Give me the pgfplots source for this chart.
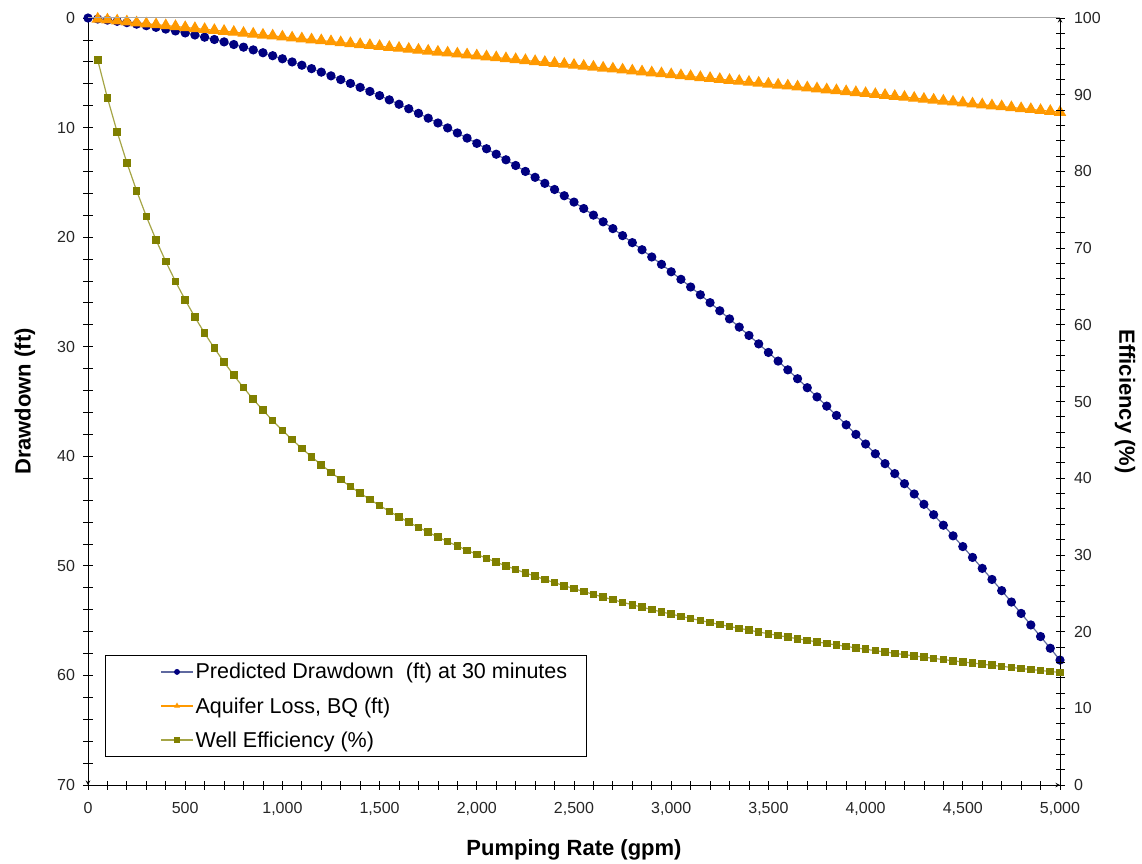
\documentclass[border=0pt]{standalone}
\usepackage{pgfplots}
\pgfplotsset{compat=1.18}
\usepackage{pgfplotstable}
\usepackage{fontspec}
\setmainfont{Liberation Sans}
\definecolor{navy}{RGB}{0,0,128}
\definecolor{navyline}{RGB}{95,105,160}
\definecolor{orng}{RGB}{255,153,0}
\definecolor{olivem}{RGB}{128,128,0}
\definecolor{oliveline}{RGB}{165,165,70}

\pgfplotstableread{
Q s BQ E
0 0 nan nan
50 0.09 0.09 94.51
100 0.19 0.17 89.58
150 0.30 0.26 85.15
200 0.42 0.34 81.13
250 0.56 0.43 77.48
300 0.70 0.52 74.14
350 0.85 0.60 71.07
400 1.01 0.69 68.25
450 1.18 0.77 65.65
500 1.36 0.86 63.24
550 1.55 0.95 60.99
600 1.75 1.03 58.90
650 1.96 1.12 56.95
700 2.18 1.20 55.13
750 2.42 1.29 53.42
800 2.66 1.38 51.81
850 2.91 1.46 50.29
900 3.17 1.55 48.86
950 3.44 1.63 47.51
1000 3.72 1.72 46.24
1050 4.01 1.81 45.03
1100 4.31 1.89 43.88
1150 4.62 1.98 42.79
1200 4.94 2.06 41.75
1250 5.28 2.15 40.76
1300 5.62 2.24 39.81
1350 5.97 2.32 38.91
1400 6.33 2.41 38.05
1450 6.70 2.49 37.23
1500 7.08 2.58 36.44
1550 7.47 2.67 35.68
1600 7.87 2.75 34.96
1650 8.28 2.84 34.26
1700 8.70 2.92 33.59
1750 9.14 3.01 32.95
1800 9.58 3.10 32.33
1850 10.03 3.18 31.73
1900 10.49 3.27 31.16
1950 10.96 3.35 30.60
2000 11.44 3.44 30.07
2050 11.93 3.53 29.55
2100 12.43 3.61 29.05
2150 12.94 3.70 28.57
2200 13.46 3.78 28.10
2250 14.00 3.87 27.65
2300 14.54 3.96 27.22
2350 15.09 4.04 26.79
2400 15.65 4.13 26.38
2450 16.22 4.21 25.98
2500 16.80 4.30 25.60
2550 17.39 4.39 25.22
2600 17.99 4.47 24.86
2650 18.60 4.56 24.50
2700 19.22 4.64 24.16
2750 19.86 4.73 23.82
2800 20.50 4.82 23.50
2850 21.15 4.90 23.18
2900 21.81 4.99 22.87
2950 22.48 5.07 22.57
3000 23.16 5.16 22.28
3050 23.85 5.25 21.99
3100 24.55 5.33 21.72
3150 25.26 5.42 21.45
3200 25.98 5.50 21.18
3250 26.72 5.59 20.92
3300 27.46 5.68 20.67
3350 28.21 5.76 20.43
3400 28.97 5.85 20.19
3450 29.74 5.93 19.95
3500 30.52 6.02 19.72
3550 31.31 6.11 19.50
3600 32.11 6.19 19.28
3650 32.92 6.28 19.07
3700 33.74 6.36 18.86
3750 34.58 6.45 18.66
3800 35.42 6.54 18.45
3850 36.27 6.62 18.26
3900 37.13 6.71 18.07
3950 38.00 6.79 17.88
4000 38.88 6.88 17.70
4050 39.77 6.97 17.52
4100 40.67 7.05 17.34
4150 41.58 7.14 17.17
4200 42.50 7.22 17.00
4250 43.44 7.31 16.83
4300 44.38 7.40 16.67
4350 45.33 7.48 16.51
4400 46.29 7.57 16.35
4450 47.26 7.65 16.20
4500 48.24 7.74 16.04
4550 49.23 7.83 15.90
4600 50.23 7.91 15.75
4650 51.24 8.00 15.61
4700 52.26 8.08 15.47
4750 53.30 8.17 15.33
4800 54.34 8.26 15.19
4850 55.39 8.34 15.06
4900 56.45 8.43 14.93
4950 57.52 8.51 14.80
5000 58.60 8.60 14.68
}\data

\pgfplotsset{
  common/.style={
    scale only axis, width=972pt, height=767pt,
    xmin=0, xmax=5000, clip=false,
    tick align=center, major tick length=9pt, minor tick length=9pt,
    tick style={black, line width=0.8pt},
    axis line style={black, line width=1pt, -},
    /pgf/number format/assume math mode=true,
    scaled x ticks=false,
    tick label style={font=\fontsize{16}{19}\selectfont, text=black!85},
  },
  ddstyle/.style={navyline, line width=1.2pt, mark=*, mark size=4pt, mark options={navy, fill=navy, draw=navy, solid}},
  aqstyle/.style={orng, line width=1.2pt, mark=triangle*, mark size=6pt, mark options={orng, fill=orng, draw=orng, solid}},
  efstyle/.style={oliveline, line width=1.2pt, mark=square*, mark size=3.2pt, mark options={olivem, fill=olivem, draw=olivem, solid}},
}

\begin{document}
\begin{tikzpicture}
\begin{axis}[common,
  y dir=reverse, ymin=0, ymax=70,
  ytick={0,10,...,70}, minor y tick num=4,
  xtick={0,500,...,5000}, minor x tick num=4,
  axis x line=bottom, axis y line=left,
  xticklabel style={yshift=-9pt},
  yticklabel style={xshift=-5pt},
  xlabel={Pumping Rate (gpm)}, ylabel={Drawdown (ft)},
  xlabel style={at={(axis description cs:0.5,-0.085)}, anchor=center, font=\bfseries\fontsize{22}{26}\selectfont},
  ylabel style={at={(axis description cs:-0.065,0.5)}, anchor=center, font=\bfseries\fontsize{22}{26}\selectfont},
]
\addplot[ddstyle] table[x=Q, y=s]{\data};
\addplot[aqstyle] table[x=Q, y=BQ]{\data};
\end{axis}
\begin{axis}[common,
  ymin=0, ymax=100,
  ytick={0,10,...,100}, minor y tick num=4,
  axis x line=none, axis y line=right,
  yticklabel style={xshift=6pt},
  ylabel={Efficiency (\%)},
  ylabel style={at={(axis description cs:1.067,0.5)}, anchor=center, rotate=180, font=\bfseries\fontsize{22}{26}\selectfont},
  legend cell align=left,
  legend image code/.code={%
    \path (-52pt,0pt) (0pt,0pt);
    \draw[mark repeat=2, mark phase=2, #1, mark size=2.3pt] plot coordinates {(0pt,0pt) (16pt,0pt) (32pt,0pt)};},
  legend style={at={(axis description cs:0.0175,0.0365)}, anchor=south west,
    draw=black, line width=0.8pt, fill=white,
    font=\fontsize{21.5}{25}\selectfont,
    inner xsep=3pt, inner ysep=6pt, row sep=13pt,
    nodes={inner sep=2pt}},
]
\addlegendimage{ddstyle}
\addlegendentry{Predicted Drawdown\ \ (ft) at 30 minutes\hspace*{14pt}}
\addlegendimage{aqstyle}
\addlegendentry{Aquifer Loss, BQ (ft)}
\addplot[efstyle] table[x=Q, y=E]{\data};
\addlegendentry{Well Efficiency (\%)}
\draw[black!35, line width=1pt] (rel axis cs:0,1) -- (rel axis cs:1,1);
\end{axis}
\path[use as bounding box] (-88pt,-78pt) rectangle (1054pt,785pt);
\end{tikzpicture}
\end{document}
